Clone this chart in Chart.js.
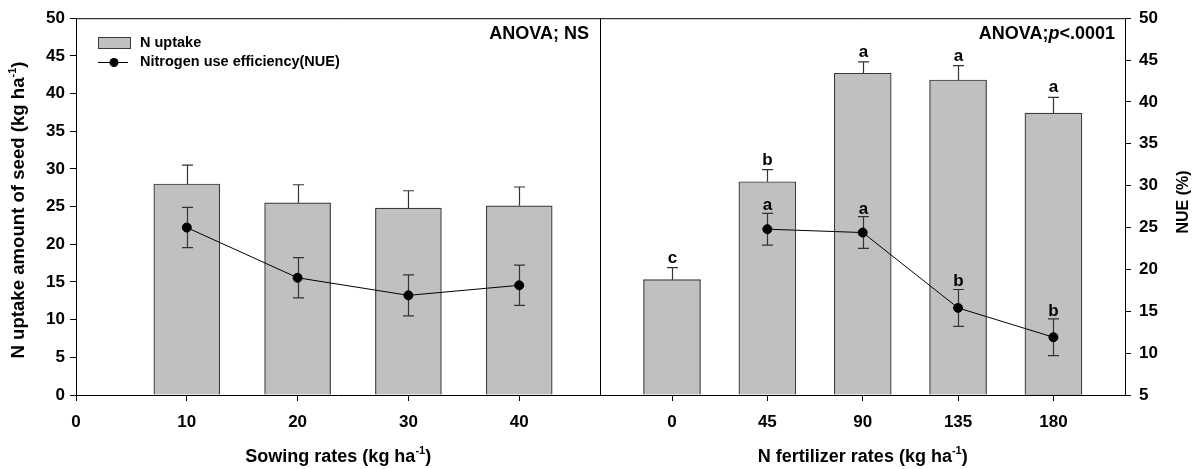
<!DOCTYPE html>
<html>
<head>
<meta charset="utf-8">
<script src="https://cdn.jsdelivr.net/npm/chart.js@4.4.1/dist/chart.umd.min.js"></script>
<style>
  html, body { margin: 0; padding: 0; background: #fff; }
</style>
</head>
<body>
<canvas id="grafico" width="1198" height="469"></canvas>
<script>
// dados
var sowingRates = [0, 10, 20, 30, 40];
var sowingUptake = [null, 28.0, 25.5, 24.8, 25.1];
var sowingUptakeErr = [null, 2.5, 2.4, 2.3, 2.5];
var sowingNue = [null, 25.0, 19.0, 16.9, 18.1];
var sowingNueErr = [null, 2.4, 2.4, 2.45, 2.4];

var fertRates = [0, 45, 90, 135, 180];
var fertUptake = [15.3, 28.3, 42.7, 41.8, 37.4];
var fertUptakeErr = [1.6, 1.6, 1.5, 1.9, 2.1];
var fertUptakeLetters = ['c', 'b', 'a', 'a', 'a'];
var fertNue = [null, 24.8, 24.4, 15.4, 11.9];
var fertNueErr = [null, 1.9, 1.9, 2.2, 2.2];
var fertNueLetters = [null, 'a', 'a', 'b', 'b'];

var uptakeTicks = [0, 5, 10, 15, 20, 25, 30, 35, 40, 45, 50];
var nueTicks = [5, 10, 15, 20, 25, 30, 35, 40, 45, 50];

// posição horizontal dos dois painéis (unidades do eixo x)
var LEFT_STEP = 11.08, RIGHT_START = 596, RIGHT_STEP = 2.119, SPLIT = 524, X_MAX = 1049;
function posLeft(r) { return r * LEFT_STEP; }
function posRight(r) { return RIGHT_START + r * RIGHT_STEP; }

var FONT = "'Liberation Sans', Arial, sans-serif";
var BAR_FILL = '#c0c0c0', BAR_EDGE = '#3a3a3a';

function pontos(rates, vals, posFn) {
  var out = [];
  rates.forEach(function (r, i) { if (vals[i] != null) out.push({ x: posFn(r), y: vals[i] }); });
  return out;
}

var tickPositions = sowingRates.map(posLeft).concat(fertRates.map(posRight));
var tickLabels = sowingRates.concat(fertRates).map(String);

function drawSup(ctx, base, sup, tail, x, y, size) {
  var big = 'bold ' + size + 'px ' + FONT, small = 'bold ' + Math.round(size * 0.6) + 'px ' + FONT;
  ctx.font = big;
  var w1 = ctx.measureText(base).width;
  ctx.font = small;
  var w2 = ctx.measureText(sup).width;
  ctx.font = big;
  var w3 = ctx.measureText(tail).width;
  var x0 = x - (w1 + w2 + w3) / 2;
  ctx.textAlign = 'left';
  ctx.textBaseline = 'alphabetic';
  ctx.fillText(base, x0, y);
  ctx.font = small;
  ctx.fillText(sup, x0 + w1, y - size * 0.45);
  ctx.font = big;
  ctx.fillText(tail, x0 + w1 + w2, y);
}

function errBar(ctx, x, yTop, yBot, cap) {
  ctx.beginPath();
  ctx.moveTo(x, yTop); ctx.lineTo(x, yBot);
  ctx.moveTo(x - cap, yTop); ctx.lineTo(x + cap, yTop);
  ctx.moveTo(x - cap, yBot); ctx.lineTo(x + cap, yBot);
  ctx.stroke();
}

var extras = {
  id: 'extras',
  afterDatasetDraw: function (chart, args) {
    var ds = chart.data.datasets[args.index];
    if (ds.type !== 'bar') return;
    var ctx = chart.ctx, xs = chart.scales.x, ys = chart.scales.y;
    var rates = ds.panel === 'left' ? sowingRates : fertRates;
    var vals = ds.panel === 'left' ? sowingUptake : fertUptake;
    var errs = ds.panel === 'left' ? sowingUptakeErr : fertUptakeErr;
    var posFn = ds.panel === 'left' ? posLeft : posRight;
    ctx.save();
    ctx.strokeStyle = '#333'; ctx.lineWidth = 1.2;
    rates.forEach(function (r, i) {
      if (vals[i] == null) return;
      var x = Math.round(xs.getPixelForValue(posFn(r))) + 0.5;
      var top = ys.getPixelForValue(vals[i] + errs[i]);
      ctx.beginPath();
      ctx.moveTo(x, ys.getPixelForValue(vals[i])); ctx.lineTo(x, top);
      ctx.moveTo(x - 5.5, top); ctx.lineTo(x + 5.5, top);
      ctx.stroke();
      if (ds.panel === 'right') {
        ctx.fillStyle = '#000';
        ctx.font = 'bold 17px ' + FONT;
        ctx.textAlign = 'center'; ctx.textBaseline = 'alphabetic';
        ctx.fillText(fertUptakeLetters[i], x, top - 5);
      }
    });
    ctx.restore();
  },
  beforeDatasetDraw: function (chart, args) {
    var ds = chart.data.datasets[args.index];
    if (ds.type !== 'line') return;
    var ctx = chart.ctx, xs = chart.scales.x, ys = chart.scales.y2;
    var rates = ds.panel === 'left' ? sowingRates : fertRates;
    var vals = ds.panel === 'left' ? sowingNue : fertNue;
    var errs = ds.panel === 'left' ? sowingNueErr : fertNueErr;
    var posFn = ds.panel === 'left' ? posLeft : posRight;
    ctx.save();
    ctx.strokeStyle = '#333'; ctx.lineWidth = 1.2;
    rates.forEach(function (r, i) {
      if (vals[i] == null) return;
      var x = Math.round(xs.getPixelForValue(posFn(r))) + 0.5;
      var top = ys.getPixelForValue(vals[i] + errs[i]);
      var bot = ys.getPixelForValue(vals[i] - errs[i]);
      errBar(ctx, x, top, bot, 5.5);
      if (ds.panel === 'right' && fertNueLetters[i]) {
        ctx.fillStyle = '#000';
        ctx.font = 'bold 17px ' + FONT;
        ctx.textAlign = 'center'; ctx.textBaseline = 'alphabetic';
        ctx.fillText(fertNueLetters[i], x, top - 3);
      }
    });
    ctx.restore();
  },
  afterDraw: function (chart) {
    var ctx = chart.ctx, a = chart.chartArea, xs = chart.scales.x;
    ctx.save();
    ctx.strokeStyle = '#000'; ctx.lineWidth = 1;
    ctx.beginPath();
    ctx.moveTo(a.left, a.top + 0.5); ctx.lineTo(a.right, a.top + 0.5);
    var sx = Math.round(xs.getPixelForValue(SPLIT)) + 0.5;
    ctx.moveTo(sx, a.top); ctx.lineTo(sx, a.bottom);
    ctx.stroke();

    // legenda
    ctx.fillStyle = BAR_FILL; ctx.strokeStyle = BAR_EDGE;
    ctx.fillRect(98, 37, 32, 11);
    ctx.strokeRect(98.5, 37.5, 32, 11);
    ctx.strokeStyle = '#000'; ctx.lineWidth = 1;
    ctx.beginPath(); ctx.moveTo(98, 62.5); ctx.lineTo(128, 62.5); ctx.stroke();
    ctx.fillStyle = '#000';
    ctx.beginPath(); ctx.arc(114, 62.5, 4.5, 0, Math.PI * 2); ctx.fill();
    ctx.font = 'bold 14.5px ' + FONT;
    ctx.textAlign = 'left'; ctx.textBaseline = 'middle';
    ctx.fillText('N uptake', 140, 43);
    ctx.fillText('Nitrogen use efficiency(NUE)', 140, 62);

    // ANOVA
    ctx.font = 'bold 18px ' + FONT;
    ctx.textAlign = 'right'; ctx.textBaseline = 'middle';
    ctx.fillText('ANOVA; NS', 589, 34);
    var tail = '<.0001';
    var wTail = ctx.measureText(tail).width;
    ctx.fillText(tail, 1115, 34);
    ctx.font = 'italic bold 18px ' + FONT;
    var wp = ctx.measureText('p').width;
    ctx.fillText('p', 1115 - wTail, 34);
    ctx.font = 'bold 18px ' + FONT;
    ctx.fillText('ANOVA;', 1115 - wTail - wp, 34);

    // títulos dos eixos
    var midL = (a.left + sx) / 2, midR = (sx + a.right) / 2;
    drawSup(ctx, 'Sowing rates (kg ha', '-1', ')', midL, 462, 18);
    drawSup(ctx, 'N fertilizer rates (kg ha', '-1', ')', midR, 462, 18);

    ctx.save();
    ctx.translate(24, 210); ctx.rotate(-Math.PI / 2);
    drawSup(ctx, 'N uptake amount of seed (kg ha', '-1', ')', 0, 0, 18.6);
    ctx.restore();
    ctx.save();
    ctx.translate(1188, 202); ctx.rotate(-Math.PI / 2);
    drawSup(ctx, 'NUE (%)', '', '', 0, 0, 16);
    ctx.restore();
    ctx.restore();
  }
};

function eixoY(pos, ticks, width, pad) {
  return {
    type: 'linear', position: pos, min: ticks[0], max: ticks[ticks.length - 1],
    afterBuildTicks: function (s) { s.ticks = ticks.map(function (v) { return { value: v }; }); },
    afterFit: function (s) { s.width = width; },
    grid: { drawOnChartArea: false, drawTicks: true, tickLength: 6, color: '#000' },
    border: { display: true, color: '#000', width: 1 },
    ticks: { color: '#000', padding: pad, font: { family: FONT, size: 17, weight: 'bold' } }
  };
}

new Chart(document.getElementById('grafico'), {
  type: 'bar',
  data: {
    datasets: [
      { type: 'line', panel: 'left', order: 1, yAxisID: 'y2',
        data: pontos(sowingRates, sowingNue, posLeft),
        borderColor: '#000', borderWidth: 1, pointRadius: 4.5, pointBackgroundColor: '#000',
        pointBorderColor: '#000', tension: 0 },
      { type: 'line', panel: 'right', order: 1, yAxisID: 'y2',
        data: pontos(fertRates, fertNue, posRight),
        borderColor: '#000', borderWidth: 1, pointRadius: 4.5, pointBackgroundColor: '#000',
        pointBorderColor: '#000', tension: 0 },
      { type: 'bar', panel: 'left', order: 2, yAxisID: 'y', grouped: false, barThickness: 66,
        data: pontos(sowingRates, sowingUptake, posLeft),
        backgroundColor: BAR_FILL, borderColor: BAR_EDGE, borderWidth: 1.2 },
      { type: 'bar', panel: 'right', order: 2, yAxisID: 'y', grouped: false, barThickness: 57,
        data: pontos(fertRates, fertUptake, posRight),
        backgroundColor: BAR_FILL, borderColor: BAR_EDGE, borderWidth: 1.2 }
    ]
  },
  options: {
    responsive: false,
    animation: false,
    devicePixelRatio: 1,
    layout: { padding: { top: 17, left: 0, right: 0, bottom: 0 } },
    plugins: { legend: { display: false }, tooltip: { enabled: false } },
    scales: {
      x: {
        type: 'linear', min: 0, max: X_MAX, offset: false,
        afterBuildTicks: function (s) { s.ticks = tickPositions.map(function (v) { return { value: v }; }); },
        afterFit: function (s) { s.height = 74; },
        grid: { offset: false, drawOnChartArea: false, drawTicks: true, tickLength: 6, color: '#000' },
        border: { display: true, color: '#000', width: 1 },
        ticks: {
          color: '#000', padding: 11, maxRotation: 0, autoSkip: false,
          font: { family: FONT, size: 17, weight: 'bold' },
          callback: function (v, i) { return tickLabels[i]; }
        }
      },
      y: eixoY('left', uptakeTicks, 76, 5),
      y2: eixoY('right', nueTicks, 73, 8)
    }
  },
  plugins: [extras]
});
</script>
</body>
</html>
